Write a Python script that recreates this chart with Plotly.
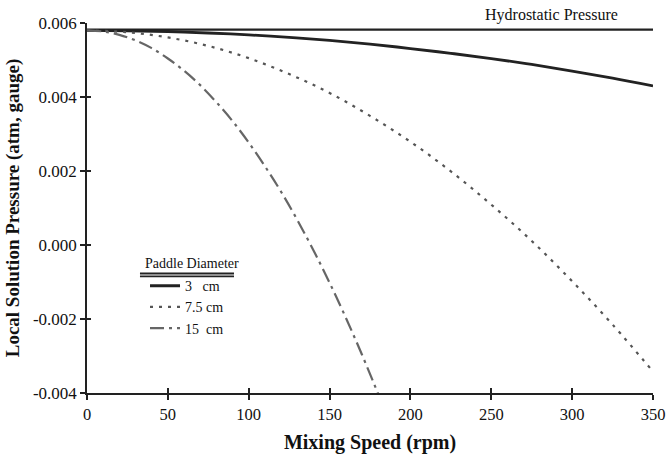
import plotly.graph_objects as go

# Data
rpm_a = [0, 25, 50, 75, 100, 125, 150, 175, 200, 225, 250, 275, 300, 325, 350]
p_hydro = [0.00582] * len(rpm_a)
p_3cm = [0.00580, 0.00579, 0.00577, 0.00573, 0.00568, 0.00561, 0.00553, 0.00543,
         0.00531, 0.00518, 0.00504, 0.00488, 0.00470, 0.00451, 0.00430]
p_75cm = [0.00580, 0.00575, 0.00561, 0.00538, 0.00505, 0.00462, 0.00411, 0.00349,
          0.00279, 0.00199, 0.00109, 0.00011, -0.00098, -0.00215, -0.00342]
rpm_b = [0, 10, 20, 30, 40, 50, 60, 70, 80, 90, 100, 110, 120, 130, 140, 150, 160, 170, 180]
p_15cm = [0.00580, 0.00577, 0.00568, 0.00553, 0.00532, 0.00504, 0.00471, 0.00432,
          0.00386, 0.00335, 0.00277, 0.00213, 0.00144, 0.00068, -0.00014, -0.00102,
          -0.00196, -0.00296, -0.00402]

x_ticks = [0, 50, 100, 150, 200, 250, 300, 350]
y_ticks = [-0.004, -0.002, 0.000, 0.002, 0.004, 0.006]
y_labels = ["-0.004", "-0.002", "0.000", "0.002", "0.004", "0.006"]

FONT = "Liberation Serif"

fig = go.Figure()
fig.add_trace(go.Scatter(x=rpm_a, y=p_hydro, mode="lines", showlegend=False,
                         line=dict(color="#222", width=2.2), hoverinfo="skip"))
fig.add_trace(go.Scatter(x=rpm_a, y=p_3cm, mode="lines", name="3   cm", line_shape="spline",
                         line=dict(color="#222", width=2.8)))
fig.add_trace(go.Scatter(x=rpm_a, y=p_75cm, mode="lines", name="7.5 cm", line_shape="spline",
                         line=dict(color="#555", width=2.2, dash="3px,6px")))
fig.add_trace(go.Scatter(x=rpm_b, y=p_15cm, mode="lines", name="15  cm", line_shape="spline",
                         line=dict(color="#666", width=2.2, dash="14px,5px,3px,5px")))

# invisible companion trace for crossing ticks
fig.add_trace(go.Scatter(x=[0, 350], y=[0, 0], xaxis="x2", yaxis="y2", mode="lines",
                         line=dict(width=0), showlegend=False, hoverinfo="skip"))

fig.add_annotation(x=287, y=0.0058, xref="x", yref="y", yanchor="bottom", xanchor="center",
                   yshift=4, text="Hydrostatic Pressure", showarrow=False,
                   font=dict(family=FONT, size=16, color="#111"))

# legend heading (annotation) with double underline
fig.add_annotation(x=0.099, y=0.351, xref="paper", yref="paper", xanchor="left",
                   yanchor="middle", text="Paddle Diameter", showarrow=False,
                   font=dict(family=FONT, size=14, color="#111"))
for yy in (0.323, 0.315):
    fig.add_shape(type="line", xref="paper", yref="paper", x0=0.0936, x1=0.2597,
                  y0=yy, y1=yy, line=dict(color="#222", width=1.8))

fig.update_layout(
    width=668, height=459,
    margin=dict(l=87, r=15, t=23, b=66),
    paper_bgcolor="white", plot_bgcolor="white",
    font=dict(family=FONT, size=14, color="#111"),
    xaxis=dict(range=[0, 350], tickvals=x_ticks, ticks="outside", ticklen=5, tickwidth=1.5,
               tickcolor="#222", showline=True, linecolor="#222", linewidth=1.5,
               showgrid=False, zeroline=False, tickfont=dict(family=FONT, size=16.5),
               automargin=False,
               title=dict(text="<b>Mixing Speed (rpm)</b>", font=dict(family=FONT, size=20),
                          standoff=12)),
    yaxis=dict(range=[-0.004, 0.006], tickvals=y_ticks, ticktext=y_labels, ticks="outside",
               ticklen=5, tickwidth=1.5, tickcolor="#222", showline=True, linecolor="#222",
               linewidth=1.5, showgrid=False, zeroline=False, automargin=False,
               tickfont=dict(family=FONT, size=17),
               title=dict(text="<b>Local Solution Pressure (atm, gauge)</b>",
                          font=dict(family=FONT, size=19), standoff=8)),
    xaxis2=dict(range=[0, 350], tickvals=x_ticks, ticks="inside", ticklen=5, tickwidth=1.5,
                tickcolor="#222", showticklabels=False, showline=False, showgrid=False,
                zeroline=False, overlaying="x", anchor="y2", side="bottom", automargin=False),
    yaxis2=dict(range=[-0.004, 0.006], tickvals=y_ticks, ticks="inside", ticklen=4,
                tickwidth=1.5, tickcolor="#222", showticklabels=False, showline=False,
                showgrid=False, zeroline=False, overlaying="y", side="left", automargin=False),
    legend=dict(x=0.1025, y=0.332, xanchor="left", yanchor="top", bgcolor="rgba(0,0,0,0)",
                font=dict(family=FONT, size=14), tracegroupgap=0, itemwidth=30),
)

fig.write_html("out.html")
